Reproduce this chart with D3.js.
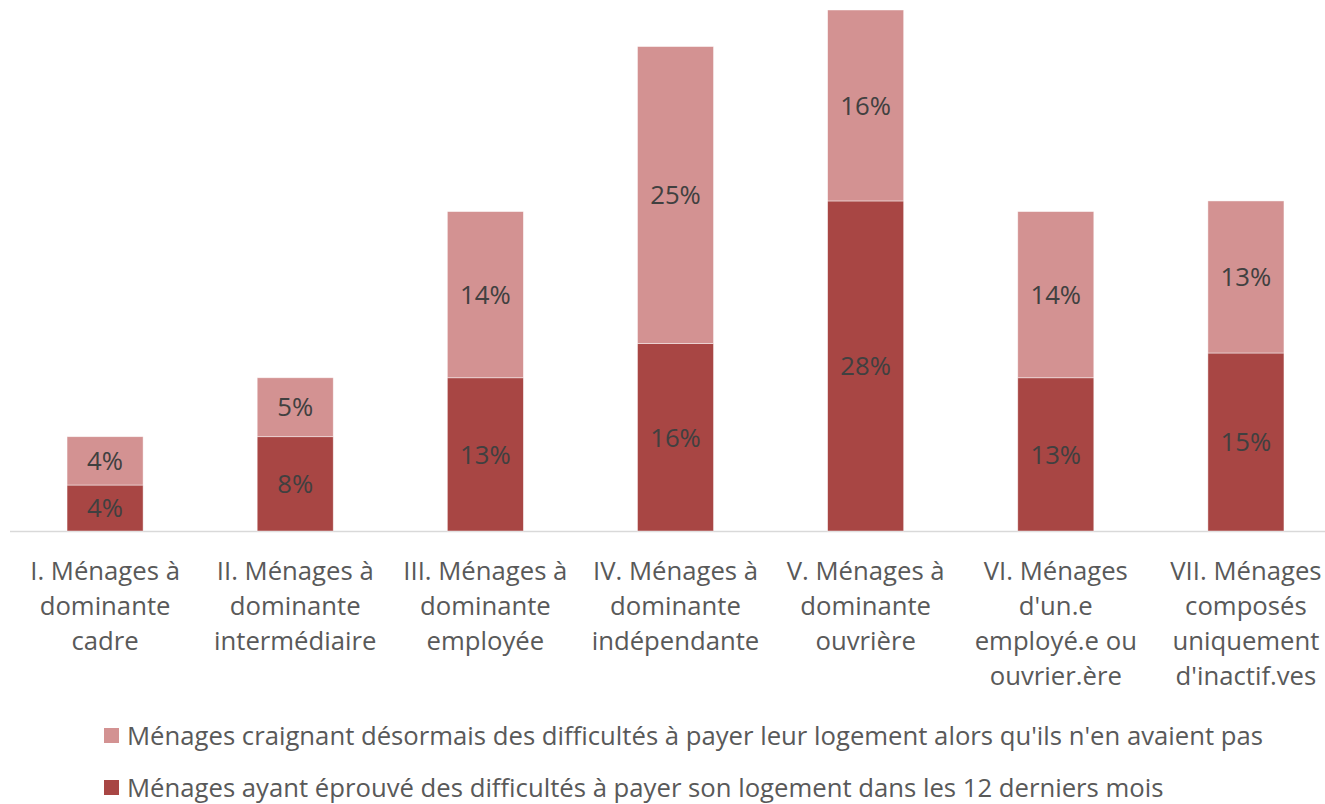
<!DOCTYPE html>
<html>
<head>
<meta charset="utf-8">
<script src="https://cdn.jsdelivr.net/npm/d3@7"></script>
<style>
  html, body { margin: 0; padding: 0; background: #fff; }
  svg { display: block; font-family: "Open Sans", "Lato", sans-serif; }
</style>
</head>
<body>
<svg id="chart" width="1325" height="804"></svg>
<script>
const categories = [
  "I. Ménages à\ndominante\ncadre",
  "II. Ménages à\ndominante\nintermédiaire",
  "III. Ménages à\ndominante\nemployée",
  "IV. Ménages à\ndominante\nindépendante",
  "V. Ménages à\ndominante\nouvrière",
  "VI. Ménages\nd'un.e\nemployé.e ou\nouvrier.ère",
  "VII. Ménages\ncomposés\nuniquement\nd'inactif.ves"
];
const difficultes = [3.9, 8.0, 13.0, 15.9, 28.0, 13.0, 15.1];
const craignant = [4.1, 5.0, 14.1, 25.2, 16.2, 14.1, 12.9];
const seriesNames = [
  "Ménages ayant éprouvé des difficultés à payer son logement dans les 12 derniers mois",
  "Ménages craignant désormais des difficultés à payer leur logement alors qu'ils n'en avaient pas"
];
const colors = ["#A84644", "#D39292"];

const svg = d3.select("#chart");
const baseY = 531, topY = 10;
const FS = 25.7;

const x = d3.scaleBand().domain(categories).range([10, 1341])
  .paddingInner(0.6).paddingOuter(0.3);
const y = d3.scaleLinear().domain([0, 44.2]).range([baseY, topY]);

const rows = categories.map((c, i) => ({ cat: c, d: difficultes[i], c2: craignant[i] }));
const stacked = d3.stack().keys(["d", "c2"])(rows);

svg.append("line").attr("x1", 10).attr("x2", 1341).attr("y1", baseY + 0.5).attr("y2", baseY + 0.5)
  .attr("stroke", "#D9D9D9").attr("stroke-width", 1.5);

const groups = svg.selectAll("g.series").data(stacked).enter().append("g")
  .attr("class", "series").attr("fill", (d, i) => colors[i]);

groups.selectAll("rect").data(d => d).enter().append("rect")
  .attr("x", d => x(d.data.cat))
  .attr("width", x.bandwidth())
  .attr("y", d => y(d[1]))
  .attr("height", d => y(d[0]) - y(d[1]))
  .attr("stroke", "#fff").attr("stroke-width", 0.75).attr("stroke-opacity", 0.6);

groups.selectAll("text").data(d => d).enter().append("text")
  .attr("x", d => x(d.data.cat) + x.bandwidth() / 2)
  .attr("y", d => (y(d[0]) + y(d[1])) / 2)
  .attr("dy", "0.36em")
  .attr("text-anchor", "middle")
  .attr("fill", "#404040")
  .attr("font-size", FS)
  .text(d => Math.round(d[1] - d[0]) + "%");

const labels = svg.append("g").selectAll("text").data(categories).enter().append("text")
  .attr("text-anchor", "middle")
  .attr("fill", "#595959")
  .attr("font-size", FS)
  .attr("transform", d => `translate(${x(d) + x.bandwidth() / 2},0)`);
labels.selectAll("tspan").data(d => d.split("\n")).enter().append("tspan")
  .attr("x", 0)
  .attr("y", (d, i) => 571 + i * 35)
  .attr("dy", "0.36em")
  .text(d => d);

const legendItems = [1, 0];
const leg = svg.append("g").selectAll("g").data(legendItems).enter().append("g")
  .attr("transform", (d, i) => `translate(104, ${736 + i * 52})`);
leg.append("rect").attr("x", 0).attr("y", -8).attr("width", 15).attr("height", 15)
  .attr("fill", d => colors[d]);
leg.append("text").attr("x", 23).attr("y", 0).attr("dy", "0.36em")
  .attr("fill", "#595959").attr("font-size", FS)
  .text(d => seriesNames[d]);
</script>
</body>
</html>
